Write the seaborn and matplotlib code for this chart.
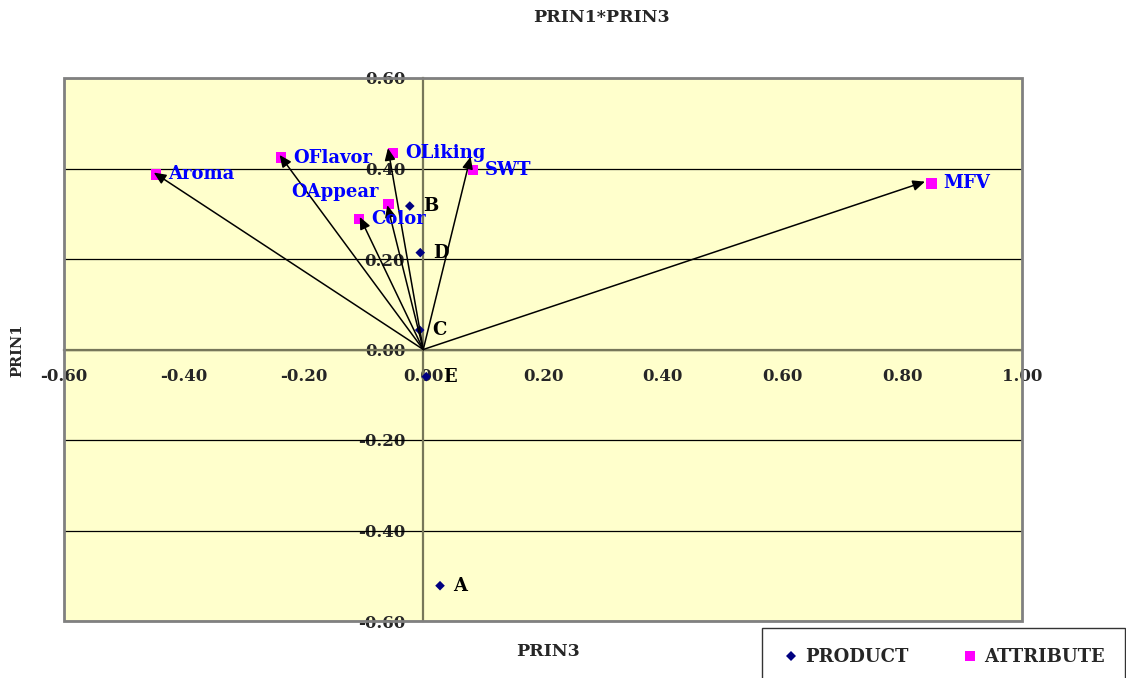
import matplotlib
matplotlib.use("Agg")
import matplotlib.pyplot as plt
from matplotlib.patches import Rectangle
import seaborn as sns
import pandas as pd

# ---- data ----
products = ["A", "B", "C", "D", "E"]
prod_x = [0.028, -0.0225, -0.006, -0.005, 0.005]
prod_y = [-0.522, 0.317, 0.043, 0.214, -0.060]

attributes = ["Aroma", "OFlavor", "OLiking", "SWT", "OAppear", "Color", "MFV"]
attr_x = [-0.446, -0.237, -0.050, 0.083, -0.058, -0.107, 0.849]
attr_y = [0.387, 0.424, 0.435, 0.397, 0.322, 0.288, 0.367]
# arrow end points (as drawn in the chart)
arrow_x = [-0.450, -0.240, -0.059, 0.079, -0.060, -0.106, 0.838]
arrow_y = [0.391, 0.430, 0.445, 0.426, 0.319, 0.293, 0.371]

x_ticks = [-0.6, -0.4, -0.2, 0.0, 0.2, 0.4, 0.6, 0.8, 1.0]
y_ticks = [-0.6, -0.4, -0.2, 0.0, 0.2, 0.4, 0.6]

title = "PRIN1*PRIN3"
xlabel = "PRIN3"
ylabel = "PRIN1"
legend_labels = ["PRODUCT", "ATTRIBUTE"]

# ---- style ----
sns.set_style("white")
FONT = ["DejaVu Serif"]
plt.rcParams["font.family"] = FONT
plt.rcParams["font.weight"] = "bold"

df = pd.DataFrame({
    "x": prod_x + attr_x,
    "y": prod_y + attr_y,
    "label": products + attributes,
    "type": [legend_labels[0]] * len(products) + [legend_labels[1]] * len(attributes),
})

fig = plt.figure(figsize=(11.26, 6.78), dpi=100)
ax = fig.add_axes([64 / 1126, 1 - 621 / 678, (1022 - 64) / 1126, (621 - 78) / 678])
ax.set_facecolor("#FFFFCC")

ax.set_xlim(-0.6, 1.0)
ax.set_ylim(-0.6, 0.6)

# horizontal gridlines
for yv in y_ticks:
    ax.axhline(yv, color="black", lw=0.9, zorder=1)

sns.scatterplot(
    data=df, x="x", y="y", hue="type", style="type",
    markers={legend_labels[0]: "D", legend_labels[1]: "s"},
    palette={legend_labels[0]: "#000080", legend_labels[1]: "#FF00FF"},
    size="type", sizes={legend_labels[0]: 24, legend_labels[1]: 55},
    linewidth=0, ax=ax, zorder=3, legend="brief",
)
handles, labels = ax.get_legend_handles_labels()
if ax.get_legend() is not None:
    ax.get_legend().remove()

# arrows from origin
for ex, ey in zip(arrow_x, arrow_y):
    ax.annotate("", xy=(ex, ey), xytext=(0, 0),
                arrowprops=dict(arrowstyle="-|>,head_length=0.45,head_width=0.2",
                                color="black", lw=1.1,
                                mutation_scale=16, shrinkA=0, shrinkB=0),
                zorder=4)

# labels
px = 0.72  # points per pixel at 100 dpi
for name, x, y in zip(products, prod_x, prod_y):
    dx = 17 if name == "E" else 13
    ax.annotate(name, (x, y), xytext=(dx * px, 0), textcoords="offset points",
                ha="left", va="center", fontsize=13, fontweight="bold",
                color="black", zorder=5)
for name, x, y in zip(attributes, attr_x, attr_y):
    if name == "OAppear":
        off, ha = (-10 * px, 12 * px), "right"
    else:
        off, ha = (12 * px, 0), "left"
    ax.annotate(name, (x, y), xytext=off, textcoords="offset points",
                ha=ha, va="center", fontsize=13, fontweight="bold",
                color="#0000FF", zorder=5)

# axes through origin
for side in ["left", "bottom"]:
    ax.spines[side].set_position(("data", 0))
    ax.spines[side].set_color("#77775A")
    ax.spines[side].set_linewidth(1.6)
    ax.spines[side].set_zorder(2)
for side in ["top", "right"]:
    ax.spines[side].set_visible(False)
ax.add_patch(Rectangle((0, 0), 1, 1, transform=ax.transAxes, fill=False,
                       edgecolor="#808080", lw=2, clip_on=False, zorder=6))

ax.set_xticks(x_ticks)
ax.set_yticks(y_ticks)
ax.set_xticklabels([f"{v:.2f}" for v in x_ticks])
ax.set_yticklabels([f"{v:.2f}" for v in y_ticks])
ax.tick_params(axis="x", direction="out", length=4, width=1, color="black",
               pad=9, labelsize=12)
ax.tick_params(axis="y", direction="out", length=4, width=1, color="black",
               pad=9, labelsize=12)
for t in ax.get_xticklabels() + ax.get_yticklabels():
    t.set_fontweight("bold")
ax.set_xlabel("")
ax.set_ylabel("")

fig.text(601 / 1126, 1 - 17 / 678, title, ha="center", va="center",
         fontsize=12.5, fontweight="bold")
fig.text(548 / 1126, 1 - 652 / 678, xlabel, ha="center", va="center",
         fontsize=12.5, fontweight="bold")
fig.text(17 / 1126, 1 - 350 / 678, ylabel, ha="center", va="center",
         fontsize=10.5, fontweight="bold", rotation=90)

leg = fig.legend(handles, labels, loc="upper left",
                 bbox_to_anchor=(762 / 1126, 1 - 628 / 678), ncol=2,
                 frameon=True, fancybox=False, edgecolor="black",
                 prop={"family": FONT, "weight": "bold", "size": 13},
                 handletextpad=0.3, columnspacing=2.9, borderpad=1.1,
                 handlelength=1.0, borderaxespad=0)
leg.get_frame().set_linewidth(1.0)

fig.savefig("out.png", dpi=100)
